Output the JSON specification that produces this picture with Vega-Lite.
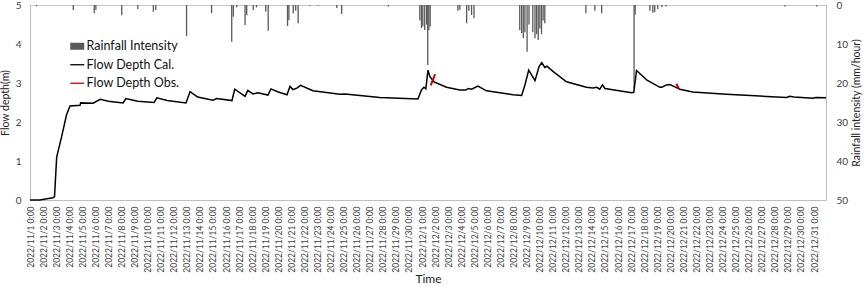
{
  "$schema": "https://vega.github.io/schema/vega-lite/v6.json",
  "width": 796,
  "height": 195,
  "autosize": {"type": "none"},
  "padding": {"left": 30, "top": 5, "right": 38, "bottom": 87},
  "background": "white",
  "config": {
    "font": "Lato",
    "view": {"stroke": "#c8c8c8", "strokeWidth": 1},
    "axis": {"domainColor": "#bfbfbf", "ticks": false, "grid": false, "labelColor": "#404040", "titleColor": "#404040", "labelFont": "Lato", "titleFont": "Lato", "titleFontWeight": "normal"}
  },
  "datasets": {
    "rain": [
      {"time": "2022-11-01T12:00", "rain": 0.3},
      {"time": "2022-11-04T07:30", "rain": 1.3},
      {"time": "2022-11-05T22:00", "rain": 2.1},
      {"time": "2022-11-06T01:00", "rain": 1.3},
      {"time": "2022-11-08T00:30", "rain": 2.6},
      {"time": "2022-11-09T06:00", "rain": 1.0},
      {"time": "2022-11-10T10:30", "rain": 1.7},
      {"time": "2022-11-10T15:00", "rain": 1.3},
      {"time": "2022-11-12T23:30", "rain": 8.0},
      {"time": "2022-11-14T21:30", "rain": 2.1},
      {"time": "2022-11-16T10:30", "rain": 9.4},
      {"time": "2022-11-16T13:30", "rain": 3.0},
      {"time": "2022-11-16T19:30", "rain": 0.6},
      {"time": "2022-11-17T11:00", "rain": 5.1},
      {"time": "2022-11-17T14:00", "rain": 2.6},
      {"time": "2022-11-18T02:00", "rain": 1.3},
      {"time": "2022-11-18T08:00", "rain": 0.6},
      {"time": "2022-11-19T01:00", "rain": 1.7},
      {"time": "2022-11-19T05:30", "rain": 6.6},
      {"time": "2022-11-20T17:00", "rain": 5.4},
      {"time": "2022-11-20T19:30", "rain": 3.9},
      {"time": "2022-11-21T03:30", "rain": 2.1},
      {"time": "2022-11-21T08:00", "rain": 1.5},
      {"time": "2022-11-21T12:30", "rain": 4.7},
      {"time": "2022-11-22T10:00", "rain": 0.2},
      {"time": "2022-11-23T01:00", "rain": 0.2},
      {"time": "2022-11-24T11:30", "rain": 0.8},
      {"time": "2022-11-24T20:30", "rain": 2.3},
      {"time": "2022-11-28T10:00", "rain": 0.4},
      {"time": "2022-11-30T20:00", "rain": 4.0},
      {"time": "2022-11-30T23:00", "rain": 5.9},
      {"time": "2022-12-01T01:30", "rain": 5.5},
      {"time": "2022-12-01T05:00", "rain": 6.4},
      {"time": "2022-12-01T08:30", "rain": 5.0},
      {"time": "2022-12-01T10:30", "rain": 15.4},
      {"time": "2022-12-01T12:30", "rain": 6.4},
      {"time": "2022-12-01T15:00", "rain": 5.5},
      {"time": "2022-12-03T18:00", "rain": 1.5},
      {"time": "2022-12-03T21:30", "rain": 1.2},
      {"time": "2022-12-04T10:00", "rain": 4.7},
      {"time": "2022-12-04T14:00", "rain": 1.5},
      {"time": "2022-12-04T19:00", "rain": 2.6},
      {"time": "2022-12-04T23:30", "rain": 3.4},
      {"time": "2022-12-08T11:30", "rain": 6.5},
      {"time": "2022-12-08T15:00", "rain": 7.2},
      {"time": "2022-12-08T18:00", "rain": 8.5},
      {"time": "2022-12-08T21:00", "rain": 7.0},
      {"time": "2022-12-09T01:00", "rain": 12.0},
      {"time": "2022-12-09T04:30", "rain": 5.0},
      {"time": "2022-12-09T11:30", "rain": 7.0},
      {"time": "2022-12-09T15:30", "rain": 8.5},
      {"time": "2022-12-09T18:30", "rain": 7.5},
      {"time": "2022-12-09T21:30", "rain": 9.0},
      {"time": "2022-12-10T00:30", "rain": 6.0},
      {"time": "2022-12-10T03:30", "rain": 7.5},
      {"time": "2022-12-10T06:30", "rain": 4.0},
      {"time": "2022-12-10T09:30", "rain": 4.7},
      {"time": "2022-12-13T13:00", "rain": 2.1},
      {"time": "2022-12-14T05:30", "rain": 1.5},
      {"time": "2022-12-14T18:00", "rain": 2.1},
      {"time": "2022-12-17T05:30", "rain": 21.5},
      {"time": "2022-12-17T07:30", "rain": 2.5},
      {"time": "2022-12-18T10:30", "rain": 1.5},
      {"time": "2022-12-18T16:00", "rain": 2.0},
      {"time": "2022-12-18T19:30", "rain": 1.8},
      {"time": "2022-12-19T01:00", "rain": 1.0},
      {"time": "2022-12-19T08:30", "rain": 0.6},
      {"time": "2022-12-19T16:00", "rain": 0.4},
      {"time": "2022-12-28T18:30", "rain": 0.4},
      {"time": "2022-12-31T05:00", "rain": 0.4}
    ],
    "flow": [
      {"time": "2022-11-01T00:00", "depth": 0.0},
      {"time": "2022-11-01T18:00", "depth": 0.0},
      {"time": "2022-11-02T18:00", "depth": 0.06},
      {"time": "2022-11-02T21:00", "depth": 0.08},
      {"time": "2022-11-03T01:00", "depth": 1.1},
      {"time": "2022-11-03T10:00", "depth": 1.62},
      {"time": "2022-11-03T19:00", "depth": 2.18},
      {"time": "2022-11-04T01:30", "depth": 2.41},
      {"time": "2022-11-04T20:00", "depth": 2.43},
      {"time": "2022-11-04T21:00", "depth": 2.49},
      {"time": "2022-11-05T20:00", "depth": 2.48},
      {"time": "2022-11-06T09:00", "depth": 2.58},
      {"time": "2022-11-07T00:00", "depth": 2.53},
      {"time": "2022-11-08T03:00", "depth": 2.49},
      {"time": "2022-11-08T08:00", "depth": 2.6},
      {"time": "2022-11-09T06:00", "depth": 2.53},
      {"time": "2022-11-10T12:00", "depth": 2.5},
      {"time": "2022-11-10T17:00", "depth": 2.62},
      {"time": "2022-11-11T12:00", "depth": 2.55},
      {"time": "2022-11-12T22:30", "depth": 2.49},
      {"time": "2022-11-13T06:00", "depth": 2.78},
      {"time": "2022-11-13T20:00", "depth": 2.64},
      {"time": "2022-11-15T00:00", "depth": 2.56},
      {"time": "2022-11-15T07:00", "depth": 2.6},
      {"time": "2022-11-16T11:00", "depth": 2.55},
      {"time": "2022-11-16T16:00", "depth": 2.84},
      {"time": "2022-11-17T11:00", "depth": 2.66},
      {"time": "2022-11-17T16:00", "depth": 2.81},
      {"time": "2022-11-18T01:30", "depth": 2.72},
      {"time": "2022-11-18T10:30", "depth": 2.75},
      {"time": "2022-11-19T05:00", "depth": 2.69},
      {"time": "2022-11-19T10:30", "depth": 2.85},
      {"time": "2022-11-20T00:00", "depth": 2.77},
      {"time": "2022-11-20T16:00", "depth": 2.7},
      {"time": "2022-11-20T21:30", "depth": 2.91},
      {"time": "2022-11-21T03:00", "depth": 2.83},
      {"time": "2022-11-21T10:00", "depth": 2.87},
      {"time": "2022-11-21T17:00", "depth": 2.94},
      {"time": "2022-11-22T15:30", "depth": 2.8},
      {"time": "2022-11-24T17:00", "depth": 2.71},
      {"time": "2022-11-25T02:30", "depth": 2.72},
      {"time": "2022-11-27T18:30", "depth": 2.63},
      {"time": "2022-11-30T16:30", "depth": 2.59},
      {"time": "2022-11-30T23:00", "depth": 2.82},
      {"time": "2022-12-01T03:30", "depth": 2.89},
      {"time": "2022-12-01T07:00", "depth": 2.85},
      {"time": "2022-12-01T11:00", "depth": 3.33},
      {"time": "2022-12-01T14:30", "depth": 3.16},
      {"time": "2022-12-01T22:00", "depth": 3.03},
      {"time": "2022-12-02T21:00", "depth": 2.89},
      {"time": "2022-12-03T21:30", "depth": 2.82},
      {"time": "2022-12-04T08:30", "depth": 2.82},
      {"time": "2022-12-04T12:45", "depth": 2.86},
      {"time": "2022-12-04T19:00", "depth": 2.84},
      {"time": "2022-12-05T06:45", "depth": 2.92},
      {"time": "2022-12-05T22:30", "depth": 2.8},
      {"time": "2022-12-07T23:30", "depth": 2.7},
      {"time": "2022-12-08T15:00", "depth": 2.68},
      {"time": "2022-12-08T21:00", "depth": 2.95},
      {"time": "2022-12-09T04:00", "depth": 3.33},
      {"time": "2022-12-09T15:30", "depth": 3.06},
      {"time": "2022-12-09T23:00", "depth": 3.42},
      {"time": "2022-12-10T04:00", "depth": 3.52},
      {"time": "2022-12-10T09:30", "depth": 3.4},
      {"time": "2022-12-10T13:30", "depth": 3.43},
      {"time": "2022-12-11T01:00", "depth": 3.29},
      {"time": "2022-12-12T01:30", "depth": 3.03},
      {"time": "2022-12-13T14:00", "depth": 2.89},
      {"time": "2022-12-14T02:00", "depth": 2.87},
      {"time": "2022-12-14T09:00", "depth": 2.89},
      {"time": "2022-12-14T14:30", "depth": 2.84},
      {"time": "2022-12-14T19:30", "depth": 2.95},
      {"time": "2022-12-15T00:00", "depth": 2.86},
      {"time": "2022-12-17T01:00", "depth": 2.75},
      {"time": "2022-12-17T05:00", "depth": 2.76},
      {"time": "2022-12-17T10:00", "depth": 3.32},
      {"time": "2022-12-18T04:30", "depth": 3.08},
      {"time": "2022-12-19T05:00", "depth": 2.89},
      {"time": "2022-12-19T08:30", "depth": 2.89},
      {"time": "2022-12-19T17:00", "depth": 2.95},
      {"time": "2022-12-19T23:00", "depth": 2.96},
      {"time": "2022-12-20T08:30", "depth": 2.9},
      {"time": "2022-12-20T17:30", "depth": 2.84},
      {"time": "2022-12-21T17:00", "depth": 2.77},
      {"time": "2022-12-24T07:00", "depth": 2.71},
      {"time": "2022-12-26T12:00", "depth": 2.67},
      {"time": "2022-12-28T21:30", "depth": 2.63},
      {"time": "2022-12-29T03:30", "depth": 2.66},
      {"time": "2022-12-29T11:00", "depth": 2.64},
      {"time": "2022-12-30T22:30", "depth": 2.61},
      {"time": "2022-12-31T03:00", "depth": 2.63},
      {"time": "2022-12-31T22:00", "depth": 2.62}
    ],
    "obs": [
      {"time": "2022-12-01T16:00", "depth": 2.94, "event": "A"},
      {"time": "2022-12-01T20:00", "depth": 3.08, "event": "A"},
      {"time": "2022-12-02T00:00", "depth": 3.23, "event": "A"},
      {"time": "2022-12-20T11:00", "depth": 2.98, "event": "B"},
      {"time": "2022-12-20T13:00", "depth": 2.93, "event": "B"},
      {"time": "2022-12-20T16:00", "depth": 2.85, "event": "B"}
    ]
  },
  "encoding": {
    "x": {
      "field": "time", "type": "temporal", "title": "Time",
      "scale": {"nice": false, "padding": 0, "domain": [{"year": 2022, "month": 11, "date": 1, "hours": 0}, {"year": 2022, "month": 12, "date": 31, "hours": 22}]},
      "axis": {
        "tickCount": {"interval": "day", "step": 1},
        "format": "%Y/%-m/%-d %-H:%M",
        "labelAngle": -90, "labelFontSize": 8.5, "labelPadding": 6, "labelOverlap": false, "labelFlush": false, "labelBound": false,
        "titleFontSize": 12, "titleY": 73, "titleBaseline": "top", "titleColor": "#222"
      }
    }
  },
  "layer": [
    {
      "data": {"name": "rain"},
      "mark": {"type": "bar", "size": 1.3, "clip": true, "color": "#595959"},
      "encoding": {
        "y": {
          "field": "rain", "type": "quantitative",
          "scale": {"domain": [0, 50], "reverse": true, "nice": false},
          "axis": {"orient": "right", "title": "Rainfall intensity (mm/hour)", "values": [0, 10, 20, 30, 40, 50], "labelOverlap": false, "labelFontSize": 10, "labelPadding": 10, "titleFontSize": 10.5, "titleAngle": 270, "titleBaseline": "top", "titlePadding": 4, "titleColor": "#222"}
        },
        "color": {
          "datum": "Rainfall Intensity", "type": "nominal",
          "scale": {"domain": ["Rainfall Intensity", "Flow Depth Cal.", "Flow Depth Obs."], "range": ["#595959", "#000000", "#d00000"]},
          "legend": {
            "orient": "none", "legendX": 41, "legendY": 35, "title": null,
            "labelFont": "Lato", "labelFontSize": 12.5, "labelColor": "#111", "labelOffset": 3,
            "symbolSize": 196, "rowPadding": 5.5,
            "encode": {
              "symbols": {
                "update": {
                  "shape": {"signal": "datum.value === 'Rainfall Intensity' ? 'M-1,-0.5H1V0.5H-1Z' : 'stroke'"},
                  "fill": {"signal": "datum.value === 'Rainfall Intensity' ? '#595959' : 'transparent'"},
                  "stroke": {"signal": "datum.value === 'Rainfall Intensity' ? '#595959' : (datum.value === 'Flow Depth Cal.' ? '#000000' : '#c04050')"},
                  "strokeWidth": {"signal": "datum.value === 'Rainfall Intensity' ? 0 : 1.3"},
                  "opacity": {"value": 1}
                }
              }
            }
          }
        }
      }
    },
    {
      "layer": [
        {
          "data": {"name": "flow"},
          "mark": {"type": "line", "strokeWidth": 1.5},
          "encoding": {
            "y": {
              "field": "depth", "type": "quantitative",
              "scale": {"domain": [0, 5], "nice": false},
              "axis": {"orient": "left", "title": "Flow depth(m)", "values": [0, 1, 2, 3, 4, 5], "labelOverlap": false, "labelFontSize": 10, "labelPadding": 9, "titleFontSize": 10.5, "titlePadding": 5, "titleColor": "#222"}
            },
            "color": {"datum": "Flow Depth Cal.", "type": "nominal"}
          }
        },
        {
          "data": {"name": "obs"},
          "mark": {"type": "line", "strokeWidth": 2},
          "encoding": {
            "y": {
              "field": "depth", "type": "quantitative",
              "scale": {"domain": [0, 5], "nice": false},
              "axis": {"orient": "left", "title": "Flow depth(m)", "values": [0, 1, 2, 3, 4, 5], "labelOverlap": false, "labelFontSize": 10, "labelPadding": 9, "titleFontSize": 10.5, "titlePadding": 5, "titleColor": "#222"}
            },
            "detail": {"field": "event", "type": "nominal"},
            "color": {"datum": "Flow Depth Obs.", "type": "nominal"}
          }
        }
      ]
    }
  ],
  "resolve": {"scale": {"y": "independent"}}
}
